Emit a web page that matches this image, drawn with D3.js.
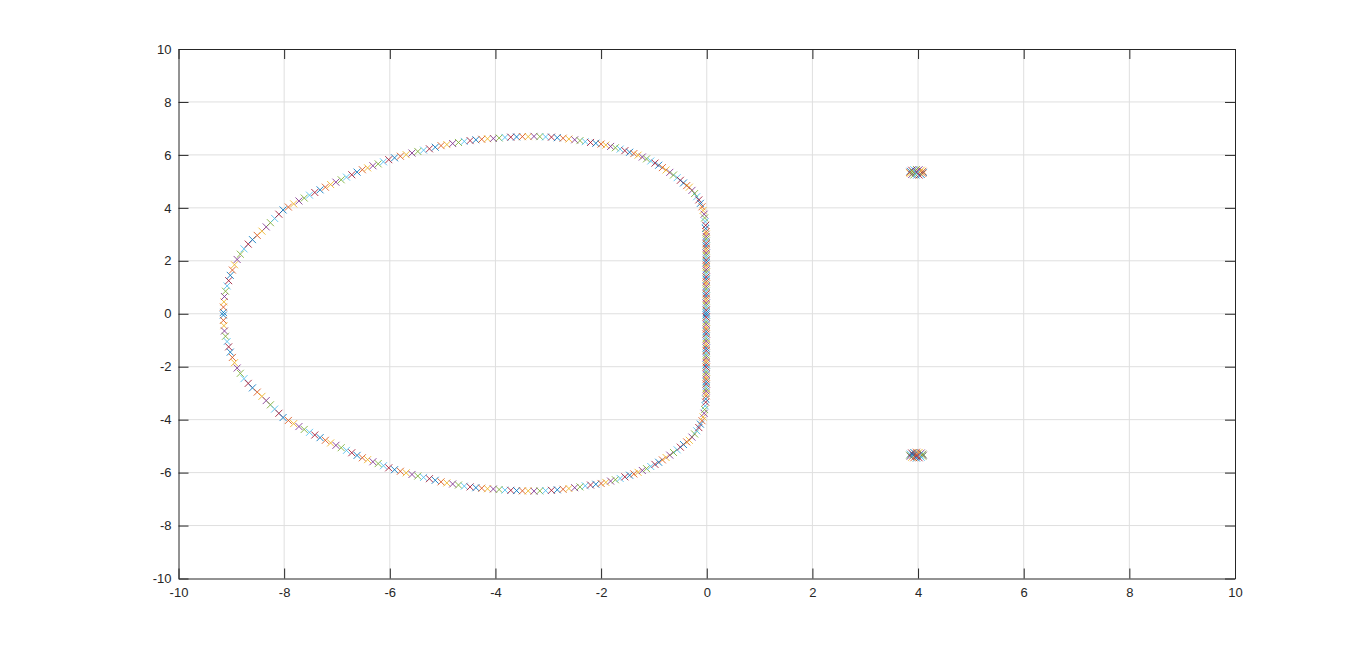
<!DOCTYPE html>
<html>
<head>
<meta charset="utf-8">
<script src="https://cdn.jsdelivr.net/npm/d3@7"></script>
<style>
  body { margin: 0; background: #fff; }
  svg { display: block; }
  .tick text { font-family: "Liberation Sans", Arial, sans-serif; font-size: 13px; fill: #262626; }
</style>
</head>
<body>
<div id="chart"></div>
<script>
// upper half of the locus (real / imag parts), conjugate half drawn mirrored
var locusRe = [
  -9.15, -9.15, -9.14, -9.13, -9.11, -9.08, -9.05, -9.02, -8.98, -8.94, -8.89, -8.83, -8.76, -8.68, -8.60, -8.51,
  -8.42, -8.34, -8.26, -8.18, -8.10, -8.02,
  -7.92, -7.82, -7.72, -7.62, -7.52, -7.42, -7.32, -7.22, -7.12, -7.02, -6.92, -6.82, -6.72, -6.62, -6.52, -6.42,
  -6.32, -6.22, -6.12, -6.02, -5.91, -5.80, -5.69, -5.58, -5.47, -5.36, -5.25, -5.14, -5.03, -4.92, -4.81, -4.70,
  -4.59, -4.48, -4.37, -4.26, -4.15, -4.04, -3.93, -3.82, -3.71, -3.60, -3.49, -3.38, -3.27, -3.16, -3.05, -2.94,
  -2.83, -2.72, -2.61, -2.50, -2.40, -2.30, -2.20, -2.10, -2.00, -1.91, -1.82, -1.73, -1.64, -1.55, -1.46, -1.38,
  -1.30, -1.22, -1.14, -1.06, -0.98, -0.91, -0.84, -0.77, -0.70, -0.63, -0.56, -0.50, -0.44, -0.38, -0.33, -0.28,
  -0.23, -0.19, -0.15, -0.12, -0.09, -0.07, -0.05, -0.04, -0.03, -0.02, -0.02, -0.01,
  -0.01, -0.01, -0.01, -0.01, -0.01, -0.01, -0.01, -0.01, -0.01, -0.01, -0.01, -0.01, -0.01, -0.01, -0.01, -0.01,
  -0.01, -0.01, -0.01, -0.01, -0.01, -0.01, -0.01, -0.01, -0.01, -0.01, -0.01, -0.01, -0.01, -0.01, -0.01, -0.01,
  -0.01, -0.01
];
var locusIm = [
  0.05, 0.25, 0.45, 0.65, 0.85, 1.05, 1.25, 1.45, 1.65, 1.85, 2.05, 2.25, 2.45, 2.63, 2.80, 2.96,
  3.12, 3.28, 3.44, 3.60, 3.76, 3.92,
  4.03, 4.15, 4.26, 4.37, 4.48, 4.58, 4.68, 4.78, 4.88, 4.97, 5.06, 5.16, 5.25, 5.35, 5.44, 5.51,
  5.59, 5.66, 5.74, 5.82, 5.89, 5.95, 6.01, 6.07, 6.13, 6.18, 6.23, 6.29, 6.35, 6.39, 6.43, 6.47,
  6.51, 6.54, 6.57, 6.59, 6.61, 6.62, 6.64, 6.66, 6.67, 6.68, 6.69, 6.69, 6.70, 6.69, 6.68, 6.67,
  6.65, 6.63, 6.60, 6.57, 6.54, 6.50, 6.47, 6.44, 6.41, 6.37, 6.32, 6.27, 6.22, 6.16, 6.10, 6.05,
  5.99, 5.92, 5.85, 5.77, 5.69, 5.61, 5.52, 5.43, 5.34, 5.24, 5.14, 5.04, 4.94, 4.84, 4.78, 4.66,
  4.54, 4.42, 4.30, 4.17, 4.04, 3.90, 3.76, 3.62, 3.48, 3.34, 3.22, 3.10,
  3.01, 2.92, 2.83, 2.74, 2.65, 2.56, 2.47, 2.38, 2.29, 2.20, 2.11, 2.02, 1.93, 1.84, 1.75, 1.66,
  1.57, 1.48, 1.39, 1.30, 1.21, 1.12, 1.03, 0.94, 0.85, 0.76, 0.67, 0.58, 0.49, 0.40, 0.31, 0.22,
  0.13, 0.04
];

// small cluster near 4 + 5.35j (upper), mirrored below
var clusterRe = [4.10, 4.09, 4.06, 4.02, 3.97, 3.92, 3.88, 3.85, 3.84, 3.85, 3.88, 3.92, 3.97, 4.02, 4.06, 4.09,
                 4.03, 3.97, 3.91, 3.97];
var clusterIm = [5.34, 5.38, 5.42, 5.44, 5.45, 5.44, 5.42, 5.38, 5.34, 5.30, 5.26, 5.24, 5.23, 5.24, 5.26, 5.30,
                 5.34, 5.38, 5.34, 5.30];

var tickVals = [-10, -8, -6, -4, -2, 0, 2, 4, 6, 8, 10];

// matlab default color order
var colors = ["#0072bd", "#d95319", "#edb120", "#7e2f8e", "#77ac30", "#4dbeee", "#a2142f"];

var width = 1366, height = 651;
var margin = {top: 49, right: 131, bottom: 72.5, left: 178.5};

var svg = d3.select("#chart")
    .append("svg")
    .attr("width", width)
    .attr("height", height);

var x = d3.scaleLinear().domain([-10, 10]).range([margin.left, width - margin.right]);
var y = d3.scaleLinear().domain([-10, 10]).range([height - margin.bottom, margin.top]);

// grid
var grid = svg.append("g").attr("stroke", "#dfdfdf").attr("stroke-width", 1);
grid.selectAll(".gx").data(tickVals.slice(1, -1)).join("line")
    .attr("x1", d => x(d)).attr("x2", d => x(d))
    .attr("y1", y(-10)).attr("y2", y(10));
grid.selectAll(".gy").data(tickVals.slice(1, -1)).join("line")
    .attr("class", "gy")
    .attr("y1", d => y(d)).attr("y2", d => y(d))
    .attr("x1", x(-10)).attr("x2", x(10));

// build point list: each parameter step gives a root + its conjugate
var pts = [];
locusRe.forEach(function(re, i) {
    pts.push({re: re, im: locusIm[i], c: colors[i % 7]});
    pts.push({re: re, im: -locusIm[i], c: colors[i % 7]});
});
clusterRe.forEach(function(re, i) {
    pts.push({re: re, im: clusterIm[i], c: colors[i % 7]});
    pts.push({re: re, im: -clusterIm[i], c: colors[(i + 3) % 7]});
});

svg.append("g").selectAll("path")
    .data(pts)
    .join("path")
    .attr("transform", d => "translate(" + x(d.re) + "," + y(d.im) + ")")
    .attr("d", "M-3.5,-3.5L3.5,3.5M-3.5,3.5L3.5,-3.5")
    .attr("fill", "none")
    .attr("stroke", d => d.c)
    .attr("stroke-width", 0.85);

// axes, ticks pointing inward like matlab
function styleAxis(g) {
    g.select(".domain").attr("stroke", "#262626");
    g.selectAll(".tick line").attr("stroke", "#262626");
}

svg.append("g")
    .attr("transform", "translate(0," + y(-10) + ")")
    .call(d3.axisBottom(x).tickValues(tickVals).tickSizeInner(-10).tickSizeOuter(0).tickPadding(9).tickFormat(d3.format("d")))
    .call(styleAxis);

svg.append("g")
    .attr("transform", "translate(" + x(-10) + ",0)")
    .call(d3.axisLeft(y).tickValues(tickVals).tickSizeInner(-10).tickSizeOuter(0).tickPadding(7).tickFormat(d3.format("d")))
    .call(styleAxis);

svg.append("g")
    .attr("transform", "translate(0," + y(10) + ")")
    .call(d3.axisTop(x).tickValues(tickVals).tickSizeInner(-10).tickSizeOuter(0).tickFormat(""))
    .call(styleAxis);

svg.append("g")
    .attr("transform", "translate(" + x(10) + ",0)")
    .call(d3.axisRight(y).tickValues(tickVals).tickSizeInner(-10).tickSizeOuter(0).tickFormat(""))
    .call(styleAxis);

svg.selectAll(".tick text").text(function() { return this.textContent.replace("−", "-"); });
</script>
</body>
</html>
